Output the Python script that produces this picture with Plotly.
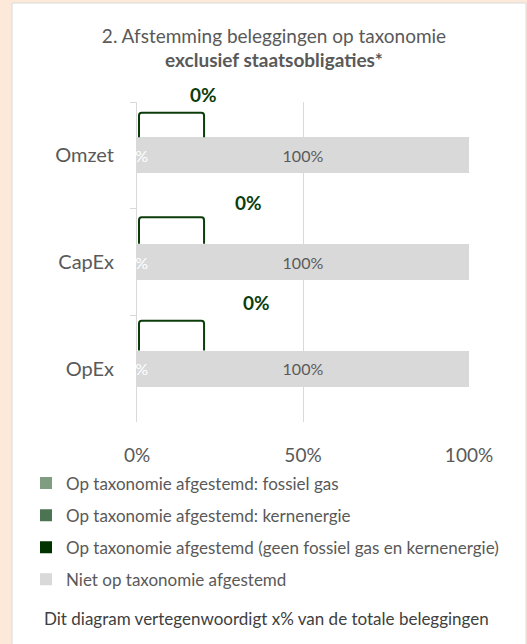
import plotly.graph_objects as go

# Data
categorieen = ["Omzet", "CapEx", "OpEx"]
fossiel_gas = [0, 0, 0]
kernenergie = [0, 0, 0]
geen_fossiel_kern = [0, 0, 0]
niet_afgestemd = [100, 100, 100]
x_ticks = [0, 50, 100]

series_namen = [
    "Op taxonomie afgestemd: fossiel gas",
    "Op taxonomie afgestemd: kernenergie",
    "Op taxonomie afgestemd (geen fossiel gas en kernenergie)",
    "Niet op taxonomie afgestemd",
]
kleuren = ["#7F9E81", "#4D7452", "#003300", "#D9D9D9"]

FONT = "Lato"
GRIJS_TXT = "#595959"
PERZIK = "#FCE9D9"
DONKERGROEN = "#0B3D0B"

W, H = 527, 644
L, R, T, B = 137, 58, 102, 222
pw, ph = W - L - R, H - T - B


def px_x(px):
    return (px - L) / pw


def px_y(py):
    return (H - B - py) / ph


fig = go.Figure()
reeksen = [fossiel_gas, kernenergie, geen_fossiel_kern, niet_afgestemd]
for i, (naam, vals, kleur) in enumerate(zip(series_namen, reeksen, kleuren)):
    is_niet = i == 3
    fig.add_trace(go.Bar(
        y=categorieen, x=vals, name=naam, orientation="h",
        marker=dict(color=kleur, line=dict(width=0)),
        width=0.34,
        legendgroup=f"g{i}",
        text=[f"{v:.0f}%" for v in vals] if is_niet else None,
        textposition="inside" if is_niet else None,
        insidetextanchor="middle",
        textfont=dict(family=FONT, size=16, color=GRIJS_TXT),
        hoverinfo="name+x",
    ))

# witte labels van de 0%-reeksen aan het begin van de balk
for cat, v in zip(categorieen, fossiel_gas):
    fig.add_annotation(x=v, y=cat, text=f"{v:.0f}%", showarrow=False,
                       xanchor="center", font=dict(family=FONT, size=16, color="white"))

# callout-labels van de donkergroene reeks, met haakje
label_dx = [20, 33.5, 36]       # x-positie label (in %)
label_dy = [61, 60, 66]         # px boven het balkmidden
haak_top = [0.40, 0.42, 0.45]   # haakje-top boven balkmidden (categorie-eenheden)
haak_x1 = 20.2
for idx, (cat, v) in enumerate(zip(categorieen, geen_fossiel_kern)):
    fig.add_annotation(x=v + label_dx[idx], y=cat, yshift=label_dy[idx],
                       text=f"<b>{v:.0f}%</b>",
                       showarrow=False, xanchor="center", yanchor="middle",
                       font=dict(family=FONT, size=19, color=DONKERGROEN))
    yb = idx - 0.17
    yt = idx - haak_top[idx]
    x0 = v + 0.6
    r = 0.03
    rx = 0.8
    pad = (f"M {x0},{yb} L {x0},{yt + r} Q {x0},{yt} {x0 + rx},{yt} "
           f"L {haak_x1 - rx},{yt} Q {haak_x1},{yt} {haak_x1},{yt + r} L {haak_x1},{yb}")
    fig.add_shape(type="path", path=pad, xref="x", yref="y",
                  line=dict(color=DONKERGROEN, width=2))

# witte kaart op perzik achtergrond
fig.add_shape(type="rect", xref="paper", yref="paper", layer="below",
              x0=px_x(12), x1=px_x(526), y0=px_y(H + 10), y1=px_y(3),
              fillcolor="white", line=dict(color="#D9D9D9", width=1))

fig.add_annotation(xref="paper", yref="paper", x=px_x(266), y=px_y(618),
                   text="Dit diagram vertegenwoordigt x% van de totale beleggingen",
                   showarrow=False, xanchor="center", yanchor="middle",
                   font=dict(family=FONT, size=17, color="#404040"))

fig.update_layout(
    width=W, height=H,
    margin=dict(l=L, r=R, t=T, b=B, autoexpand=False),
    paper_bgcolor=PERZIK,
    plot_bgcolor="white",
    barmode="stack",
    font=dict(family=FONT, color=GRIJS_TXT),
    title=dict(
        text="2. Afstemming beleggingen op taxonomie<br><b>exclusief staatsobligaties*</b>",
        x=274 / W, xref="container", xanchor="center",
        y=1 - 42.5 / H, yref="container", yanchor="top",
        font=dict(family=FONT, size=19, color=GRIJS_TXT),
    ),
    xaxis=dict(
        range=[0, 100], tickvals=x_ticks, ticktext=[f"{t}%" for t in x_ticks],
        showgrid=True, gridcolor="#D9D9D9", gridwidth=1,
        zeroline=False, showline=False, ticks="",
        ticklabelstandoff=20,
        tickfont=dict(family=FONT, size=19, color=GRIJS_TXT),
        fixedrange=True,
    ),
    yaxis=dict(
        type="category", categoryorder="array", categoryarray=categorieen,
        range=[len(categorieen) - 0.5, -0.5],
        showline=True, linecolor="#D9D9D9", linewidth=1,
        ticks="outside", tickson="boundaries", ticklen=6, tickcolor="#D9D9D9",
        ticklabelstandoff=18,
        showgrid=False,
        tickfont=dict(family=FONT, size=20, color=GRIJS_TXT),
        fixedrange=True,
    ),
    legend=dict(
        orientation="v", xref="container", yref="container",
        x=26 / W, xanchor="left", y=1 - 465.5 / H, yanchor="top",
        traceorder="grouped", tracegroupgap=7,
        font=dict(family=FONT, size=17, color=GRIJS_TXT),
        bgcolor="rgba(0,0,0,0)",
    ),
    showlegend=True,
)

# geen standaard body-marge rond de figuur
fig.write_html("out.html", config={"displayModeBar": False},
               post_script=f"document.body.style.margin='0';document.body.style.background='{PERZIK}';")
